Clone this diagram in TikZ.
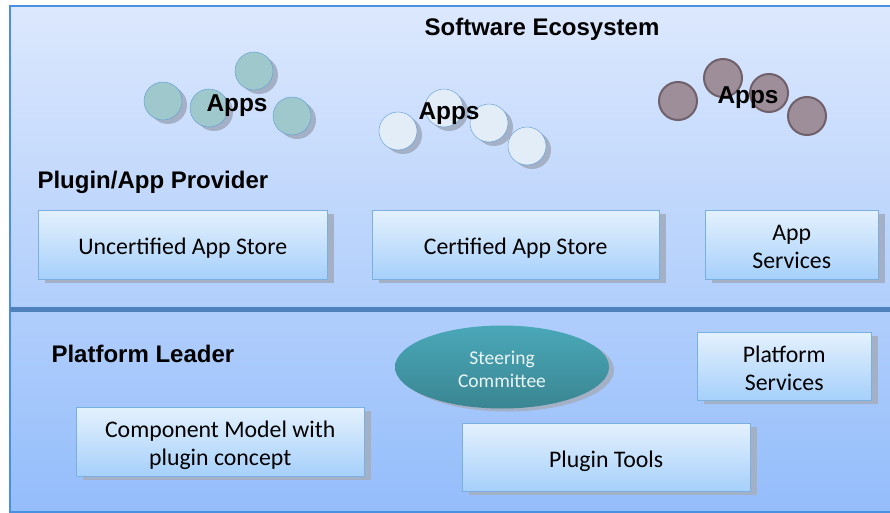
\documentclass[tikz,border=0pt]{standalone}
\usepackage{fontspec}
\setmainfont{Carlito}
\newfontfamily\headfont{Liberation Sans}
\usetikzlibrary{shapes.geometric,shadows}

\definecolor{bgtop}{HTML}{DCE8FD}
\definecolor{bgbot}{HTML}{94BDFB}
\definecolor{framecol}{HTML}{4A90E2}
\definecolor{boxtop}{HTML}{E4F1FD}
\definecolor{boxbot}{HTML}{A6D0FB}
\definecolor{boxline}{HTML}{7AB0E0}
\definecolor{shadowcol}{HTML}{A3B0C6}
\definecolor{sepcol}{HTML}{4F81BD}
\definecolor{tealapp}{HTML}{9EC8CB}
\definecolor{lightapp}{HTML}{E3EDF8}
\definecolor{mauveapp}{HTML}{9E8E9A}
\definecolor{mauveline}{HTML}{6F6069}
\definecolor{appline}{HTML}{5B9BD5}
\definecolor{steertop}{HTML}{4AA8B8}
\definecolor{steerbot}{HTML}{3A8592}

% struts that put the text lines where the boxes have them
\newcommand{\topstrut}{\rule{0pt}{26pt}}
\newcommand{\botstrut}{\rule[-6pt]{0pt}{6pt}}
\newcommand{\ovaltop}{\rule{0pt}{22pt}}
\newcommand{\ovalbot}{\rule[-4pt]{0pt}{4pt}}

\tikzset{
  storebox/.style={draw=boxline, top color=boxtop, bottom color=boxbot,
    anchor=north west, align=center,
    font=\fontsize{23.8}{28}\selectfont,
    drop shadow={shadow xshift=7pt, shadow yshift=-4pt, fill=shadowcol, opacity=1}},
  appdot/.style={circle, minimum size=38pt, inner sep=0pt, draw=appline},
  appshadow/.style={drop shadow={shadow xshift=5pt, shadow yshift=-4pt, fill=shadowcol, opacity=1}},
  headtext/.style={font=\headfont\bfseries\fontsize{24}{28}\selectfont},
  appstext/.style={font=\headfont\bfseries\fontsize{24.4}{28}\selectfont}
}

\begin{document}
\begin{tikzpicture}[x=1pt, y=-1pt]
    \useasboundingbox (0,0) rectangle (890,513);
    % background frame
    \draw[framecol, line width=1.5pt, top color=bgtop, bottom color=bgbot] (10,6) rectangle (905,512);
    \draw[sepcol, line width=5pt] (10,309) -- (905,309);

    \node[headtext] (eco) at (542,29) {Software Ecosystem};
    \node[headtext, anchor=west] (provider) at (34,182) {Plugin/App Provider};
    \node[headtext, anchor=west] (leader) at (48,354) {Platform Leader};

    % app groups
    \foreach \n/\x/\y in {1/163/101, 2/254/71, 3/209/108, 4/292/116}
        \node[appdot, appshadow, fill=tealapp] (ta\n) at (\x,\y) {};
    \node[appstext] (appsa) at (237,106) {Apps};

    \foreach \n/\x/\y in {1/398/131, 2/444/108, 3/489/123, 4/527/146}
        \node[appdot, appshadow, fill=lightapp] (la\n) at (\x,\y) {};
    \node[appstext] (appsb) at (449,114) {Apps};

    \foreach \n/\x/\y in {1/678/101, 2/723/78, 3/769/93, 4/807/116}
        \node[appdot, fill=mauveapp, draw=mauveline, line width=2pt] (ma\n) at (\x,\y) {};
    \node[appstext] (appsc) at (748,98) {Apps};

    % provider boxes
    \node[storebox, minimum width=289pt, minimum height=69pt] (uncert) at (38,210) {\topstrut Uncertified App Store\botstrut};
    \node[storebox, minimum width=287pt, minimum height=69pt] (cert) at (372,210) {\topstrut Certified App Store\botstrut};
    \node[storebox, minimum width=173pt, minimum height=69pt] (appserv) at (705,210) {\topstrut App\\Services\botstrut};

    % platform leader
    \node[ellipse, minimum width=214pt, minimum height=83pt, inner sep=0pt,
        top color=steertop, bottom color=steerbot, align=center, text=white!92!teal,
        font=\fontsize{19.5}{23}\selectfont,
        drop shadow={shadow xshift=5pt, shadow yshift=-3pt, fill=shadowcol, opacity=1}]
        (steer) at (502,367) {\ovaltop Steering\\Committee\ovalbot};
    \node[storebox, minimum width=174pt, minimum height=68pt] (platserv) at (697,332) {\topstrut Platform\\Services\botstrut};
    \node[storebox, minimum width=288pt, minimum height=69pt] (compmodel) at (76,407) {\topstrut Component Model with\\plugin concept\botstrut};
    \node[storebox, minimum width=288pt, minimum height=68pt] (tools) at (462,423) {\topstrut Plugin Tools\botstrut};
\end{tikzpicture}
\end{document}
